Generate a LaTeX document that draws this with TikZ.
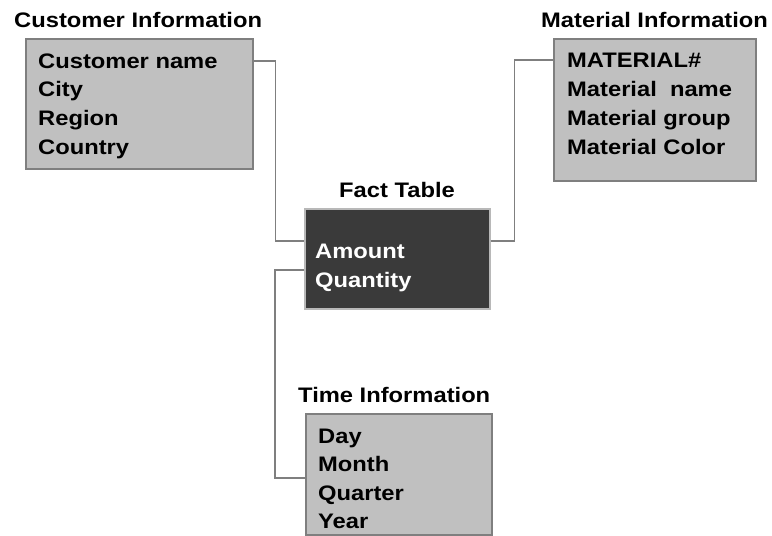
\documentclass[tikz,border=0pt]{standalone}
\usepackage{fontspec}
\setmainfont{Liberation Sans}[FakeStretch=1.13]
\begin{document}
\begin{tikzpicture}[x=1pt,y=-1pt,
  dimbox/.style={draw=boxedge, line width=1.6pt, fill=boxfill, anchor=north west, inner sep=0pt},
  factbox/.style={draw=factedge, line width=1.6pt, fill=factfill, anchor=north west, inner sep=0pt},
  heading/.style={anchor=base west, inner sep=0pt, font=\fontsize{21}{25}\selectfont\bfseries},
  item/.style={anchor=base west, inner sep=0pt, font=\fontsize{21}{25}\selectfont\bfseries},
  link/.style={draw=linkcol, line width=1.4pt}]
\definecolor{boxfill}{HTML}{C0C0C0}
\definecolor{boxedge}{HTML}{7F7F7F}
\definecolor{factfill}{HTML}{3A3A3A}
\definecolor{factedge}{HTML}{B8B8B8}
\definecolor{linkcol}{HTML}{7F7F7F}
\useasboundingbox[fill=white] (0,0) rectangle (772,536);

% dimension and fact boxes
\node[dimbox, minimum width=227pt, minimum height=130pt] (cust) at (25,38) {};
\node[dimbox, minimum width=202pt, minimum height=142pt] (mat) at (553,38) {};
\node[factbox, minimum width=185pt, minimum height=100pt] (fact) at (304,208) {};
\node[dimbox, minimum width=186pt, minimum height=121pt] (time) at (305,413) {};

% headings
\node[heading] (custhead) at (14,27) {Customer Information};
\node[heading] (mathead) at (541,27) {Material Information};
\node[heading] (facthead) at (339,197) {Fact Table};
\node[heading] (timehead) at (298,402) {Time Information};

% attribute lists
\foreach \t [count=\i] in {Customer name, City, Region, Country}
  \node[item] (cust-\i) at (38,{68+28.7*(\i-1)}) {\t};
\foreach \t [count=\i] in {MATERIAL\#, Material\ \ name, Material group, Material Color}
  \node[item] (mat-\i) at (567,{67+29*(\i-1)}) {\t};
\foreach \t [count=\i] in {Amount, Quantity}
  \node[item, text=white] (fact-\i) at (315,{258+29*(\i-1)}) {\t};
\foreach \t [count=\i] in {Day, Month, Quarter, Year}
  \node[item] (time-\i) at (318,{443+28.5*(\i-1)}) {\t};

% connectors
\draw[link] ([yshift=-23pt]cust.north east) -- ++(22,0) |- ([yshift=-33pt]fact.north west);
\draw[link] ([yshift=-33pt]fact.north east) -- ++(24,0) |- ([yshift=-22pt]mat.north west);
\draw[link] ([yshift=-62pt]fact.north west) -- ++(-29,0) |- ([yshift=-65pt]time.north west);
\end{tikzpicture}
\end{document}
